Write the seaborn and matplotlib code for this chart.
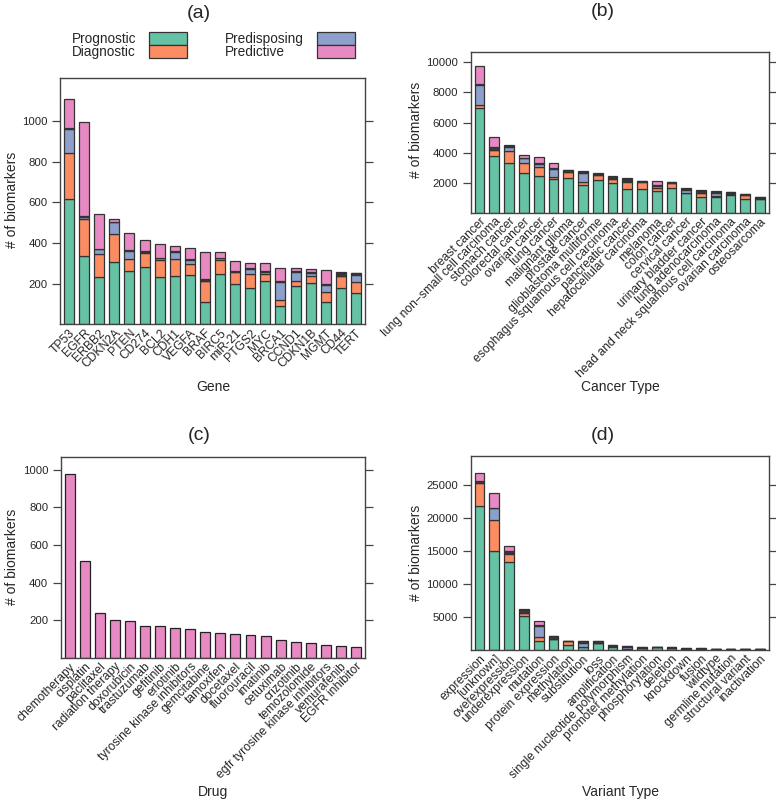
import matplotlib
matplotlib.use('Agg')
import matplotlib.pyplot as plt
import seaborn as sns
import pandas as pd
from matplotlib.patches import Rectangle

sns.set_theme(style='ticks')
plt.rcParams['font.family'] = ['Liberation Sans', 'DejaVu Sans']

# stacking order, bottom to top
layers = ['Prognostic', 'Diagnostic', 'Predisposing', 'Other', 'Predictive']
colors = {'Prognostic': '#66C2A5', 'Diagnostic': '#FC8D62',
          'Predisposing': '#8DA0CB', 'Other': '#41363f',
          'Predictive': '#E78AC3'}

# (a) genes
genes = ['TP53', 'EGFR', 'ERBB2', 'CDKN2A', 'PTEN', 'CD274', 'BCL2', 'CDH1',
         'VEGFA', 'BRAF', 'BIRC5', 'miR-21', 'PTGS2', 'MYC', 'BRCA1', 'CCND1',
         'CDKN1B', 'MGMT', 'CD44', 'TERT']
gene_prognostic = [618, 336, 233, 308, 264, 284, 235, 238, 241, 112, 246, 197,
                   179, 212, 92, 187, 205, 112, 179, 153]
gene_diagnostic = [225, 180, 111, 135, 60, 69, 80, 82, 56, 100, 71, 62,
                   69, 36, 30, 26, 33, 47, 58, 56]
gene_predisposing = [118, 12, 26, 59, 37, 3, 10, 36, 20, 2, 8, 0,
                     23, 8, 87, 46, 15, 36, 2, 34]
gene_other = [4, 4, 3, 4, 3, 5, 3, 4, 4, 8, 4, 4, 4, 6, 3, 5, 4, 3, 13, 9]
gene_predictive = [142, 464, 169, 12, 84, 56, 66, 26, 55, 134, 26, 50,
                   25, 38, 64, 12, 15, 68, 6, 0]

# (b) cancer types
cancers = ['breast cancer', 'lung non\u2212small cell carcinoma', 'stomach cancer',
           'colorectal cancer', 'ovarian cancer', 'lung cancer', 'malignant glioma',
           'prostate cancer', 'glioblastoma multiforme',
           'esophagus squamous cell carcinoma', 'pancreatic cancer',
           'hepatocellular carcinoma', 'melanoma', 'colon cancer', 'cervical cancer',
           'urinary bladder cancer', 'lung adenocarcinoma',
           'head and neck squamous cell carcinoma', 'ovarian carcinoma', 'osteosarcoma']
cancer_prognostic = [6940, 3760, 3280, 2620, 2420, 2220, 2300, 1820, 2150, 1950,
                     1550, 1560, 1460, 1660, 1290, 1020, 1020, 1200, 900, 880]
cancer_diagnostic = [250, 380, 800, 660, 600, 130, 380, 200, 330, 270,
                     480, 450, 170, 300, 40, 260, 60, 60, 250, 60]
cancer_predisposing = [1330, 0, 310, 330, 200, 570, 30, 640, 30, 40,
                       60, 40, 150, 0, 150, 50, 220, 20, 40, 20]
cancer_other = [40, 200, 60, 60, 60, 60, 100, 40, 50, 120,
                120, 50, 50, 80, 80, 120, 100, 100, 60, 100]
cancer_predictive = [1170, 690, 60, 180, 420, 350, 50, 90, 60, 60,
                     70, 0, 250, 20, 90, 50, 40, 20, 20, 0]

# (c) drugs
drugs = ['chemotherapy', 'cisplatin', 'paclitaxel', 'radiation therapy',
         'doxorubicin', 'trastuzumab', 'gefitinib', 'erlotinib',
         'tyrosine kinase inhibitors', 'gemcitabine', 'tamoxifen', 'docetaxel',
         'fluorouracil', 'imatinib', 'cetuximab', 'crizotinib', 'temozolomide',
         'egfr tyrosine kinase inhibitors', 'vemurafenib', 'EGFR inhibitor']
drug_predictive = [977, 513, 237, 200, 195, 172, 168, 159, 152, 136, 135, 129,
                   120, 115, 94, 87, 80, 71, 65, 60]

# (d) variant types
variants = ['expression', '[unknown]', 'overexpression', 'underexpression',
            'mutation', 'protein expression', 'methylation', 'substitution', 'loss',
            'amplification', 'single nucleotide polymorphism', 'promoter methylation',
            'phosphorylation', 'deletion', 'knockdown', 'fusion', 'wildtype',
            'germline mutation', 'structural variant', 'inactivation']
var_prognostic = [21860, 15030, 13300, 5210, 1315, 1700, 760, 400, 1060, 500,
                  100, 350, 380, 300, 170, 150, 140, 140, 120, 110]
var_diagnostic = [3440, 4700, 1270, 460, 600, 0, 550, 0, 50, 50,
                  0, 0, 0, 0, 0, 20, 0, 0, 0, 0]
var_predisposing = [0, 1770, 100, 0, 1720, 0, 0, 720, 0, 0,
                    350, 0, 0, 0, 0, 0, 0, 0, 0, 0]
var_other = [350, 100, 300, 350, 100, 350, 130, 200, 200, 150,
             150, 150, 70, 100, 80, 80, 80, 80, 80, 70]
var_predictive = [1150, 2200, 870, 150, 660, 70, 0, 100, 50, 0,
                  0, 0, 0, 0, 0, 0, 0, 0, 0, 0]

W, H = 776, 799
fig = plt.figure(figsize=(W / 100, H / 100), dpi=100)


def add_ax(left, top, right, bottom):
    return fig.add_axes([left / W, 1 - bottom / H, (right - left) / W, (bottom - top) / H])


def stacked(ax, names, series, ylim, yticks):
    df = pd.DataFrame(series, index=names)
    base = pd.Series(0.0, index=names)
    for layer in df.columns:
        d = pd.DataFrame({'name': names, 'value': df[layer].values})
        sns.barplot(data=d, x='name', y='value', order=names, ax=ax,
                    color=colors[layer], saturation=1, width=0.66,
                    bottom=base.values, edgecolor='#333333', linewidth=0.9)
        base = base + df[layer]
    style(ax, ylim, yticks)


def style(ax, ylim, yticks):
    ax.set_xlim(-0.6, 19.6)
    ax.set_ylim(*ylim)
    ax.set_yticks(yticks)
    ax.set_yticklabels([str(t) for t in yticks], fontsize=8.2)
    ax.set_xlabel('')
    ax.set_ylabel('')
    ax.tick_params(axis='y', which='both', left=True, right=True, direction='out',
                   length=6, width=0.9, color='#444444', pad=3)
    ax.tick_params(axis='x', length=0, pad=2)
    plt.setp(ax.get_xticklabels(), rotation=45, ha='right', rotation_mode='anchor',
             fontsize=8.7)
    for s in ax.spines.values():
        s.set_visible(True)
        s.set_color('#444444')
        s.set_linewidth(1.0)


# (a)
ax_a = add_ax(60, 78, 365, 324.4)
stacked(ax_a, genes, {'Prognostic': gene_prognostic, 'Diagnostic': gene_diagnostic,
                      'Predisposing': gene_predisposing, 'Other': gene_other,
                      'Predictive': gene_predictive},
        (0, 1212), [200, 400, 600, 800, 1000])

# (b)
ax_b = add_ax(470.7, 51.7, 769, 212.7)
stacked(ax_b, cancers, {'Prognostic': cancer_prognostic, 'Diagnostic': cancer_diagnostic,
                        'Predisposing': cancer_predisposing, 'Other': cancer_other,
                        'Predictive': cancer_predictive},
        (0, 10710), [2000, 4000, 6000, 8000, 10000])

# (c)
ax_c = add_ax(60.7, 456.7, 365, 658)
sns.barplot(x=drugs, y=drug_predictive, order=drugs, ax=ax_c, color=colors['Predictive'],
            saturation=1, width=0.66, edgecolor='#222222', linewidth=0.9)
style(ax_c, (0, 1069), [200, 400, 600, 800, 1000])

# (d)
ax_d = add_ax(470.7, 456, 769, 650)
stacked(ax_d, variants, {'Prognostic': var_prognostic, 'Diagnostic': var_diagnostic,
                         'Predisposing': var_predisposing, 'Other': var_other,
                         'Predictive': var_predictive},
        (0, 29450), [5000, 10000, 15000, 20000, 25000])

# titles and axis labels
for txt, x, y in [('(a)', 199, 13), ('(b)', 603, 11), ('(c)', 199, 435), ('(d)', 603, 436)]:
    fig.text(x / W, 1 - y / H, txt, ha='center', va='center', fontsize=14)
for txt, x, y in [('Gene', 213, 387), ('Cancer Type', 620, 387),
                  ('Drug', 213, 792), ('Variant Type', 620, 792)]:
    fig.text(x / W, 1 - y / H, txt, ha='center', va='center', fontsize=10)
for x, y in [(12, 200), (416, 130), (12, 557), (416, 553)]:
    fig.text(x / W, 1 - y / H, '# of biomarkers', ha='center', va='center',
             rotation=90, fontsize=10)

# legend of panel (a)
for labels, lx, px, cols in [(('Prognostic', 'Diagnostic'), 72, 149, ('Prognostic', 'Diagnostic')),
                             (('Predisposing', 'Predictive'), 225, 317, ('Predisposing', 'Predictive'))]:
    fig.text(lx / W, 1 - 39 / H, labels[0], ha='left', va='center', fontsize=9.8)
    fig.text(lx / W, 1 - 52 / H, labels[1], ha='left', va='center', fontsize=9.8)
    for i, c in enumerate(cols):
        top = 32 + i * 13
        fig.patches.append(Rectangle((px / W, 1 - (top + 13) / H), 38 / W, 13 / H,
                                     transform=fig.transFigure, facecolor=colors[c],
                                     edgecolor='#333333', linewidth=0.9))

fig.savefig('out.png', dpi=100)
